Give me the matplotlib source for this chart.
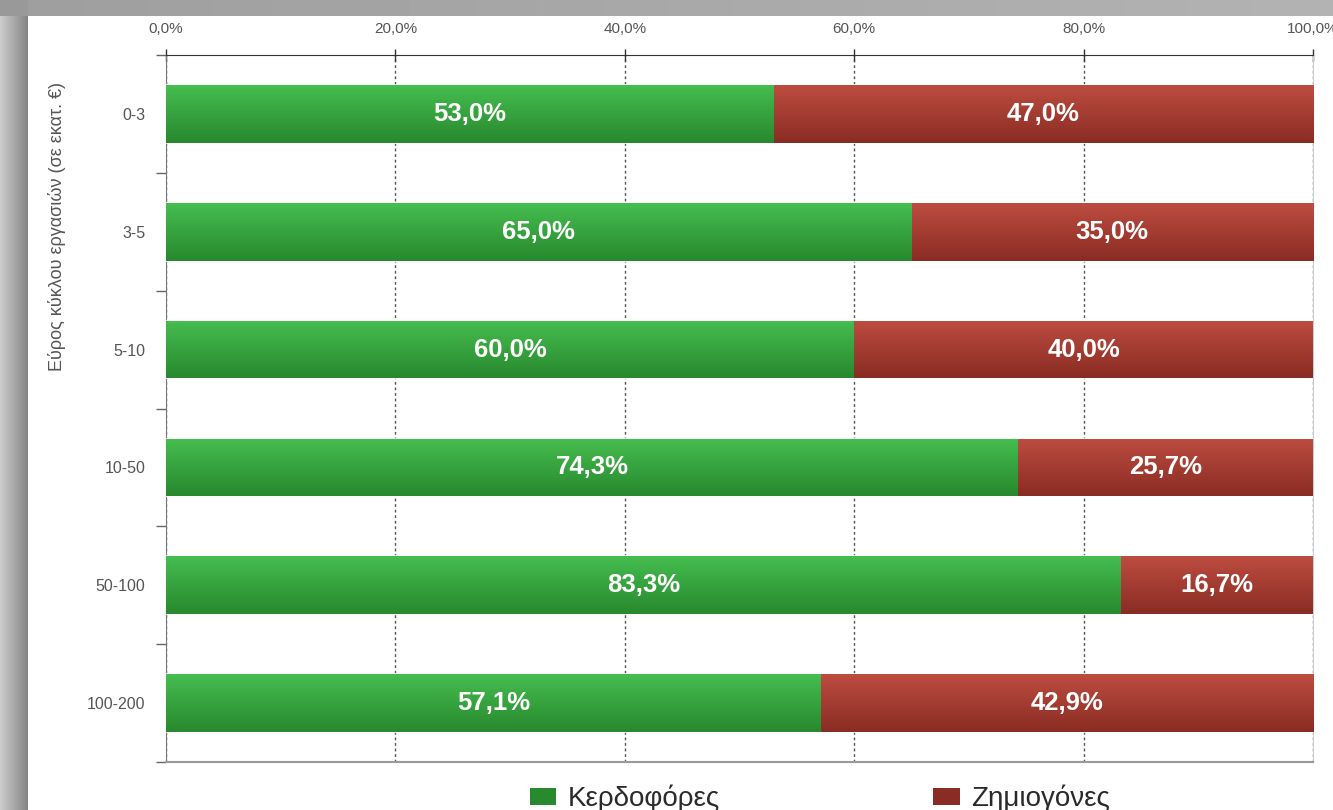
import numpy as np
import matplotlib
matplotlib.use("Agg")
import matplotlib.pyplot as plt
from matplotlib.patches import Patch
from matplotlib.ticker import FixedLocator, FuncFormatter
from matplotlib.colors import LinearSegmentedColormap

plt.rcParams["font.family"] = ["Liberation Sans", "DejaVu Sans"]

# data
categories = ["0-3", "3-5", "5-10", "10-50", "50-100", "100-200"]
profit = [53.0, 65.0, 60.0, 74.3, 83.3, 57.1]
loss = [47.0, 35.0, 40.0, 25.7, 16.7, 42.9]
series_names = ["Κερδοφόρες", "Ζημιογόνες"]
y_label = "Εύρος κύκλου εργασιών (σε εκατ. €)"

GREEN_TOP, GREEN_BOT = "#45bd4f", "#28892e"
RED_TOP, RED_BOT = "#bd4c40", "#8a2c24"

W, H = 1333, 810
fig = plt.figure(figsize=(W / 100, H / 100), dpi=100)

# gray frame around the white card
bg = fig.add_axes([0, 0, 1, 1], zorder=-10)
img = np.ones((H, W))
img[:16, :] = np.linspace(0.62, 0.70, W)[None, :]
img[:, :28] = np.linspace(0.80, 0.52, 28)[None, :]
img[:16, :28] = 0.60
bg.imshow(img, cmap="gray", vmin=0, vmax=1, aspect="auto",
          extent=(0, 1, 0, 1), interpolation="bilinear")
bg.axis("off")

ax = fig.add_axes([166 / W, 1 - 762 / H, (1313 - 166) / W, (762 - 55) / H])
ax.set_facecolor("none")

y = np.arange(len(categories))
bar_h = 0.49
g_bars = ax.barh(y, profit, height=bar_h, color=GREEN_BOT,
                 edgecolor="white", linewidth=1.2, zorder=3)
r_bars = ax.barh(y, loss, left=profit, height=bar_h, color=RED_BOT,
                 edgecolor="white", linewidth=1.2, zorder=3)

# vertical gradient inside each bar
grad = np.linspace(0, 1, 64)[:, None]
for bars, top, bot in ((g_bars, GREEN_TOP, GREEN_BOT), (r_bars, RED_TOP, RED_BOT)):
    cmap = LinearSegmentedColormap.from_list("g", [top, bot])
    for b in bars:
        x0, y0 = b.get_x(), b.get_y()
        im = ax.imshow(grad, cmap=cmap, aspect="auto", zorder=4,
                       extent=(x0, x0 + b.get_width(), y0 + b.get_height(), y0))
        im.set_clip_path(b)

for i in range(len(categories)):
    ax.text(profit[i] / 2, y[i], f"{profit[i]:.1f}%".replace(".", ","),
            ha="center", va="center", color="white", fontsize=18.5,
            fontweight="bold", zorder=5)
    ax.text(profit[i] + loss[i] / 2, y[i], f"{loss[i]:.1f}%".replace(".", ","),
            ha="center", va="center", color="white", fontsize=18.5,
            fontweight="bold", zorder=5)

ax.set_xlim(0, 100)
ax.set_ylim(len(categories) - 0.5, -0.5)

ax.xaxis.tick_top()
ax.set_xticks(np.arange(0, 101, 20))
ax.xaxis.set_major_formatter(FuncFormatter(lambda v, _: f"{v:.1f}%".replace(".", ",")))
ax.tick_params(axis="x", direction="inout", length=8, width=1, colors="#333",
               labelsize=11, labelcolor="#555", pad=10)

ax.set_yticks(y)
ax.set_yticklabels(categories)
ax.yaxis.set_minor_locator(FixedLocator(np.arange(-0.5, len(categories), 1)))
ax.tick_params(axis="y", which="major", length=0, labelsize=11.5,
               labelcolor="#555", pad=15)
ax.tick_params(axis="y", which="minor", length=7, width=1, color="#666")
ax.set_ylabel(y_label, fontsize=13, color="#555")
ax.yaxis.set_label_coords(-0.087, 0.758)

ax.grid(axis="x", color="#555", linestyle=(0, (2, 2)), linewidth=1, zorder=1)
ax.spines["top"].set_color("#333")
ax.spines["left"].set_color("#777")
ax.spines["bottom"].set_color("#999")
ax.spines["bottom"].set_linewidth(1.5)
ax.spines["right"].set_color("#ccc")

handles = [Patch(facecolor=GREEN_BOT, label=series_names[0]),
           Patch(facecolor=RED_BOT, label=series_names[1])]
fig.legend(handles=handles, loc="center", bbox_to_anchor=(0.615, 0.014), ncol=2,
           frameon=False, fontsize=20, handlelength=0.95, handleheight=0.6,
           handletextpad=0.4, columnspacing=7.7, labelcolor="#2a2a2a")

fig.savefig("out.png", dpi=100)
